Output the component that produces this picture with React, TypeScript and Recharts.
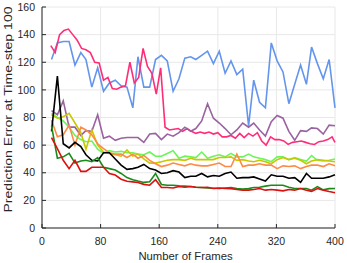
import { LineChart, Line, XAxis, YAxis, CartesianGrid } from "recharts";

// frame positions shared by most series (every ~8 frames)
const frames = [
  13, 21, 29, 37, 45, 53, 60, 68, 76, 84, 92, 100, 108, 116, 124, 131, 139, 147, 155, 163,
  171, 179, 187, 195, 203, 210, 218, 226, 234, 242, 250, 258, 266, 274, 282, 289, 297, 305, 313, 321,
  329, 337, 345, 353, 361, 368, 376, 384, 392, 400,
];

const blue = [
  122, 134, 135, 135, 118, 127, 122, 102, 116, 99, 105, 107, 103, 102, 87, 124, 102, 102, 122, 125,
  121, 99, 108, 123, 124, 122, 125, 128, 119, 128, 112, 121, 111, 115, 74, 107, 91, 87, 134, 121,
  113, 90, 104, 118, 104, 131, 119, 108, 122, 87,
];
const purple = [
  85, 82, 92, 73, 73, 67, 70.5, 70, 82, 65, 66.5, 63.5, 65, 65.5, 65.5, 65.5, 62, 68, 68.5, 64,
  68, 66.5, 69, 73, 70, 72, 77.5, 90, 79.5, 76, 72, 67.5, 71, 76, 73, 76, 71, 66.5, 77, 81.5,
  79.5, 70, 63.5, 70.5, 70, 72.5, 72, 68, 74.5, 74,
];
const lightGreen = [
  83, 80, 77.5, 73, 67, 64, 62.5, 63, 57, 54, 56, 55, 55.5, 54.5, 54.5, 53.5, 53, 55, 52, 52,
  54, 56, 50.5, 52, 51.5, 51, 55, 50.5, 52, 53, 51.5, 54, 51.5, 51.5, 53.5, 51.5, 50.5, 49.5, 48, 51.5,
  51.5, 49.5, 51, 49.5, 48.5, 52.5, 49, 48.5, 49, 50,
];
const yellow = [
  82, 79.5, 80.5, 83, 76, 69, 57, 71, 60, 55, 54, 53, 52, 56.5, 52, 53.5, 50, 47, 47, 48,
  49, 49.5, 49.5, 49, 50.5, 49.5, 49.5, 49.5, 49.5, 51, 51, 51.5, 49, 49.5, 48.5, 48, 49, 48, 46.5, 49.5,
  51, 49.5, 50.5, 49, 46.5, 48.5, 49.5, 49, 48.5, 48,
];
const orange = [
  78, 66, 67.5, 74.5, 60, 73, 71, 67.5, 61, 57.5, 54.5, 53.5, 53.5, 51, 53.5, 50.5, 52.5, 49, 46.5, 44.5,
  45.5, 47, 46, 45, 46.5, 45.5, 45, 45, 46, 47, 44.5, 44.5, 53.5, 44.5, 45.5, 45.5, 46.5, 45.5, 45.5, 43,
  45, 44.5, 45, 43, 44.5, 45.5, 45.5, 44.5, 46.5, 45,
];
const black = [
  70, 110, 61, 58, 62, 59, 53, 49, 48.5, 54.5, 54.5, 50, 45.5, 42.5, 43, 44, 46, 43, 42, 39.5,
  40, 41.5, 40.5, 36.5, 37.5, 37.5, 39.5, 37, 38, 37.5, 39.5, 40.5, 36, 36.5, 36.5, 37, 35.5, 34, 38.5, 37.5,
  37.5, 36, 36.5, 33, 39.5, 36, 36, 36, 37, 38.5,
];
const green = [
  74, 50.5, 51.5, 54, 47, 48.5, 49, 48, 51, 44, 43, 42, 39.5, 36.5, 35, 34, 33, 33.5, 39.5, 31.5,
  31, 31, 30.5, 30.3, 30, 29.5, 29.3, 29, 28.8, 28.6, 29, 29.3, 28.6, 28.2, 28.5, 29.3, 29.5, 30.3, 31, 31,
  31, 29.5, 28.6, 28.6, 28.6, 27.4, 30, 27.6, 28.5, 28.6,
];
const red = [
  65.5, 57.5, 49, 43, 49, 41, 41, 44, 44, 44, 39.5, 38.3, 35.3, 33.8, 33.4, 33, 31.6, 31, 35, 29.3,
  29.3, 29, 30, 29.5, 30, 29.5, 29.3, 29.5, 28.6, 29, 28.6, 28.5, 27.9, 27.4, 27.4, 27.9, 28.6, 27.4, 27.9, 27.4,
  26.9, 27.9, 27.4, 28.6, 27.4, 26.5, 28.6, 27.4, 26.4, 25.5,
];

// the pink series is sampled more densely (every 6 frames)
const pinkFrames = [
  12, 18, 24, 30, 36, 42, 48, 54, 60, 66, 72, 78, 84, 90, 96, 102, 108, 114, 120, 126,
  132, 138, 144, 150, 156, 162, 168, 174, 180, 186, 192, 198, 204, 210, 216, 222, 228, 234, 240, 246,
  252, 258, 264, 270, 276, 282, 288, 294, 300, 306, 312, 318, 324, 330, 336, 342, 348, 354, 360, 366,
  372, 378, 384, 390, 396, 400,
];
const pink = [
  132, 127, 140, 143, 144, 140, 136, 130, 129, 127, 120, 119.5, 107, 109, 101, 100.5, 102, 103, 120, 105,
  109, 130, 117, 112, 97, 116, 73, 71, 71.5, 72, 70, 72, 70, 68.5, 69.5, 68.5, 69.5, 68, 69, 66,
  66, 67, 65, 68.5, 65.5, 68.5, 66.5, 69, 63, 60, 66, 64, 64, 63, 60.5, 62, 62.5, 63, 62, 61,
  60.5, 62.5, 63, 64, 66, 62,
];

const xTicks = [0, 80, 160, 240, 320, 400];
const yTicks = [0, 20, 40, 60, 80, 100, 120, 140, 160];

const rows = frames.map((x, i) => ({
  x,
  blue: blue[i],
  purple: purple[i],
  lightGreen: lightGreen[i],
  yellow: yellow[i],
  orange: orange[i],
  black: black[i],
  green: green[i],
  red: red[i],
}));
const pinkRows = pinkFrames.map((x, i) => ({ x, pink: pink[i] }));

const font = "'Liberation Sans', Arial, sans-serif";
const tickStyle = { fontSize: 10.5, fill: "#262626", fontFamily: font };
const axisStroke = { stroke: "#262626" };

function YLabel({ viewBox }: any) {
  const cx = viewBox.x + 8;
  const cy = viewBox.y + viewBox.height / 2 - 8;
  return (
    <text
      x={cx}
      y={cy}
      transform={`rotate(-90 ${cx} ${cy})`}
      textAnchor="middle"
      dominantBaseline="central"
      fontSize={11}
      fontFamily={font}
      fill="#262626"
      textLength={206}
      lengthAdjust="spacingAndGlyphs"
    >
      Prediction Error at Time-step 100
    </text>
  );
}

function XLabel({ viewBox }: any) {
  return (
    <text
      x={viewBox.x + viewBox.width / 2 - 3}
      y={viewBox.y + 32}
      textAnchor="middle"
      fontSize={11.3}
      fontFamily={font}
      fill="#262626"
    >
      Number of Frames
    </text>
  );
}

const lines = [
  { key: "blue", color: "#6495ed" },
  { key: "purple", color: "#9a62a0" },
  { key: "lightGreen", color: "#6cf55a" },
  { key: "yellow", color: "#c8c800" },
  { key: "orange", color: "#ff8a45" },
  { key: "black", color: "#000000" },
  { key: "green", color: "#1b8a1b" },
  { key: "red", color: "#dd1010" },
];

export default function App() {
  return (
    <div style={{ position: "absolute", left: 0, top: 0, width: 347, height: 263, background: "#fff" }}>
      <LineChart width={347} height={263} data={rows} margin={{ top: 7, right: 12, bottom: 0, left: 0 }}>
        <CartesianGrid stroke="#e8e8e8" strokeWidth={1} />
        <XAxis
          dataKey="x"
          type="number"
          domain={[0, 400]}
          ticks={xTicks}
          height={35}
          tick={tickStyle}
          tickSize={-4}
          tickMargin={14}
          axisLine={axisStroke}
          tickLine={axisStroke}
          label={{ content: XLabel }}
        />
        <XAxis
          xAxisId="top"
          orientation="top"
          type="number"
          domain={[0, 400]}
          ticks={xTicks}
          height={0}
          tick={false}
          tickSize={-4}
          axisLine={axisStroke}
          tickLine={axisStroke}
        />
        <YAxis
          type="number"
          domain={[0, 160]}
          ticks={yTicks}
          width={42}
          tick={tickStyle}
          tickSize={-4}
          tickMargin={11}
          axisLine={axisStroke}
          tickLine={axisStroke}
          label={{ content: YLabel }}
        />
        <YAxis
          yAxisId="right"
          orientation="right"
          type="number"
          domain={[0, 160]}
          ticks={yTicks}
          width={0}
          tick={false}
          tickSize={-4}
          axisLine={axisStroke}
          tickLine={axisStroke}
        />
        <Line
          data={rows}
          dataKey="blue"
          stroke="#6495ed"
          strokeWidth={1.6}
          dot={false}
          isAnimationActive={false}
        />
        <Line
          data={pinkRows}
          dataKey="pink"
          stroke="#ff2d78"
          strokeWidth={1.6}
          dot={false}
          isAnimationActive={false}
        />
        {lines.slice(1).map((l) => (
          <Line
            key={l.key}
            data={rows}
            dataKey={l.key}
            stroke={l.color}
            strokeWidth={1.6}
            dot={false}
            isAnimationActive={false}
          />
        ))}
      </LineChart>
    </div>
  );
}
